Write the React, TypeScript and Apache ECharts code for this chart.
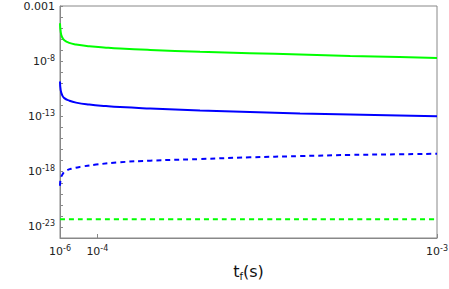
import React, { useEffect, useRef } from "react";
import * as echarts from "echarts";

// time t_f (s) for the solid curves
const tSolid = [1e-6, 2.9e-6, 6.3e-6, 1.24e-5, 2.56e-5, 4.34e-5, 7.86e-5, 1.23e-4, 1.6e-4, 2.4e-4, 3.72e-4, 5.04e-4, 6.37e-4, 7.7e-4, 9.0e-4, 1e-3];
const greenSolid = [2.7e-5, 4.6e-6, 1.6e-6, 8.1e-7, 4.6e-7, 3.3e-7, 2.3e-7, 1.7e-7, 1.4e-7, 1.05e-7, 7.2e-8, 5.4e-8, 4.0e-8, 3.0e-8, 2.4e-8, 2.0e-8];
const blueSolid = [1.5e-10, 2.3e-11, 9.3e-12, 4.6e-12, 2.7e-12, 1.8e-12, 1.2e-12, 8.7e-13, 7.1e-13, 5.3e-13, 3.5e-13, 2.6e-13, 1.9e-13, 1.5e-13, 1.2e-13, 1.07e-13];

// time t_f (s) for the blue dashed curve
const tBlueDashed = [1e-6, 2.9e-6, 8.2e-6, 1.69e-5, 3.47e-5, 6.12e-5, 9.64e-5, 1.58e-4, 2.4e-4, 3.72e-4, 5.04e-4, 6.37e-4, 7.7e-4, 9.0e-4, 1e-3];
const blueDashed = [5.4e-20, 2.2e-19, 6.2e-19, 1.2e-18, 2.0e-18, 3.0e-18, 4.4e-18, 7.1e-18, 1.0e-17, 1.4e-17, 2.0e-17, 2.6e-17, 3.3e-17, 3.8e-17, 4.2e-17];

const tGreenDashed = [1e-6, 2.5e-4, 5.0e-4, 7.5e-4, 1e-3];
const greenDashed = [5e-23, 5e-23, 5e-23, 5e-23, 5e-23];

const xTicks = [1e-6, 1e-4, 1e-3];
const yLabelExps = [-3, -8, -13, -18, -23];

const zip = (xs: number[], ys: number[]) => xs.map((x, i) => [x, ys[i]]);

export default function App() {
  const ref = useRef<HTMLDivElement>(null);
  useEffect(() => {
    document.body.style.margin = "0";
    const chart = echarts.init(ref.current!, null, { renderer: "svg" });
    const font = "DejaVu Sans";
    const rich = {
      b: { fontFamily: font, fontSize: 11, color: "#222" },
      sup: { fontFamily: font, fontSize: 8, color: "#222", verticalAlign: "bottom", padding: [0, 0, 6, 0] },
    };
    const line = (name: string, data: number[][], color: string, dashed: boolean) => ({
      name,
      type: "line",
      data,
      showSymbol: false,
      smooth: 0.5,
      lineStyle: { color, width: 2, type: dashed ? [5, 4] : "solid" },
      itemStyle: { color },
    });
    chart.setOption({
      animation: false,
      grid: { left: 60, right: 12, top: 6, bottom: 51, show: true, borderColor: "#888", borderWidth: 1, outerBoundsMode: "none" },
      xAxis: {
        type: "value",
        min: 1e-6,
        max: 1e-3,
        name: "t{sub|f}(s)",
        nameLocation: "middle",
        nameGap: 23,
        nameTextStyle: {
          fontFamily: font,
          fontSize: 16,
          color: "#111",
          rich: {
            sub: { fontFamily: font, fontSize: 10, color: "#111", verticalAlign: "top", padding: [10, 0, 0, 0] },
          },
        },
        axisLine: { lineStyle: { color: "#888" } },
        axisTick: { inside: true, length: 4, lineStyle: { color: "#888" }, customValues: xTicks },
        splitLine: { show: false },
        axisLabel: {
          customValues: xTicks,
          margin: 6,
          formatter: (v: number) => `{b|10}{sup|${Math.round(Math.log10(v))}}`,
          rich,
        },
      },
      yAxis: {
        type: "log",
        logBase: 10,
        min: 1e-24,
        max: 1e-3,
        interval: 1,
        name: "-Γ",
        nameLocation: "middle",
        nameRotate: 90,
        nameGap: 50,
        nameTextStyle: { fontFamily: font, fontSize: 14, color: "#111" },
        axisLine: { show: true, lineStyle: { color: "#888" } },
        axisTick: { show: true, inside: true, length: 3, lineStyle: { color: "#888" } },
        splitLine: { show: false },
        axisLabel: {
          margin: 5,
          showMinLabel: true,
          showMaxLabel: true,
          hideOverlap: false,
          formatter: (v: number) => {
            const e = Math.round(Math.log10(v));
            if (!yLabelExps.includes(e)) return "";
            if (e === -3) return "{b|0.001}";
            return `{b|10}{sup|${e}}`;
          },
          rich,
        },
      },
      series: [
        line("green solid", zip(tSolid, greenSolid), "#00ff00", false),
        line("blue solid", zip(tSolid, blueSolid), "#0000ff", false),
        line("blue dashed", zip(tBlueDashed, blueDashed), "#0000ff", true),
        line("green dashed", zip(tGreenDashed, greenDashed), "#00ff00", true),
      ],
    });
    return () => chart.dispose();
  }, []);
  return <div ref={ref} style={{ width: 449, height: 289 }} />;
}
